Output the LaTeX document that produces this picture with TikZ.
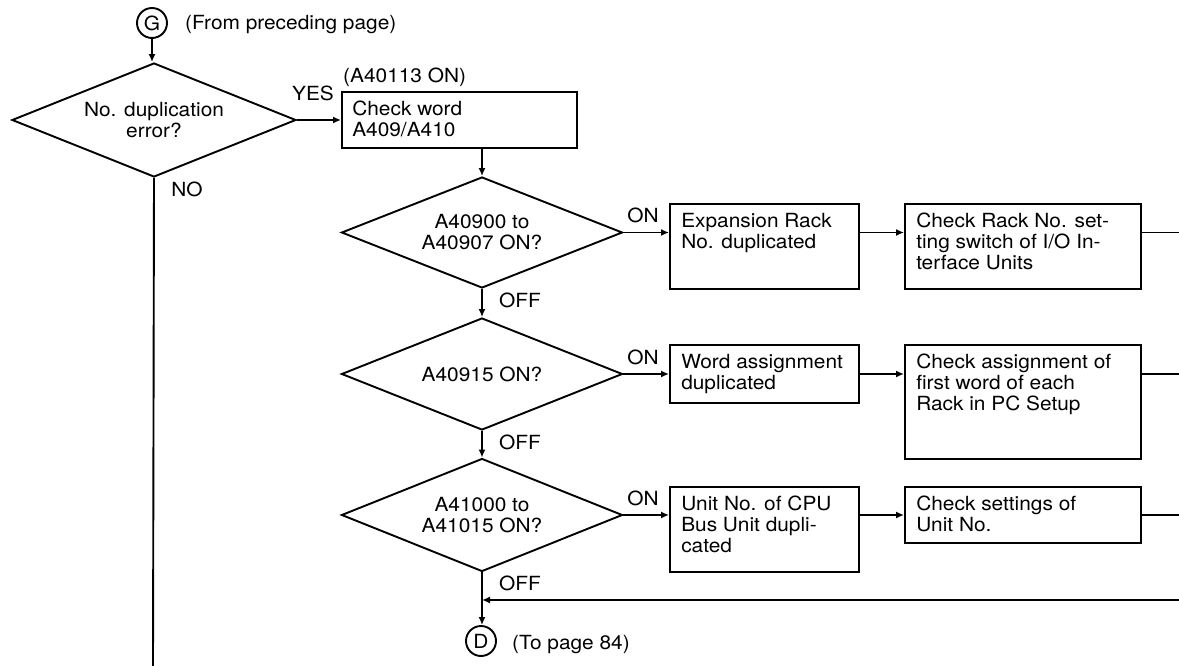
\documentclass[tikz,border=0pt]{standalone}
\usepackage{fontspec}
\setmainfont{TeX Gyre Heros}[FakeStretch=1.07]
\usetikzlibrary{shapes.geometric,arrows.meta}
\tikzset{
  base/.style={font=\fontsize{19.5}{21}\selectfont, inner sep=0pt},
  line/.style={line width=1.9pt},
  arr/.style={line width=1.9pt, -{Latex[length=8pt,width=7pt]}},
  dec/.style={base, draw, line width=1.9pt, diamond, aspect=2.5, align=center},
  box/.style={draw, line width=1.9pt, inner sep=0pt},
  txt/.style={base, anchor=north west, align=left},
  lbl/.style={base},
  conn/.style={base, draw, circle, line width=1.9pt, minimum size=30pt}
}
\begin{document}
\begin{tikzpicture}[x=1pt,y=-1pt]
\useasboundingbox (0,0) rectangle (1179,666);

% connectors G and D
\node[conn] (G) at (152,23) {G};
\node[lbl, anchor=west] (Gt) at (185,25) {(From preceding page)};

% first decision
\node[dec, minimum width=284pt, minimum height=114pt] (d1) at (154,120) {No. duplication\\error?};
\node[box, minimum width=235pt, minimum height=56pt] (c1) at (459.5,120) {};
\node[txt] (c1t) at ([shift={(11,10)}]c1.north west) {Check word\\A409/A410};
\node[lbl, anchor=west] (c1l) at (343,77) {(A40113 ON)};
\node[lbl] (yes) at (313,93) {YES};
\node[lbl] (no) at (187,189) {NO};

% decisions chain
\node[dec, minimum width=281pt, minimum height=111pt] (d2) at (482,232.5) {A40900 to\\A40907 ON?};
\node[dec, minimum width=281pt, minimum height=112pt] (d3) at (482,374) {A40915 ON?};
\node[dec, minimum width=281pt, minimum height=113pt] (d4) at (482,515) {A41000 to\\A41015 ON?};

% boxes row 1
\node[box, minimum width=189pt, minimum height=85pt] (e1) at (764.5,246.5) {};
\node[txt] (e1t) at ([shift={(12,10)}]e1.north west) {Expansion Rack\\No. duplicated};
\node[box, minimum width=236pt, minimum height=85pt] (f1) at (1023,246.5) {};
\node[txt] (f1t) at ([shift={(12,10)}]f1.north west) {Check Rack No. set-\\ting switch of I/O In-\\terface Units};

% boxes row 2
\node[box, minimum width=189pt, minimum height=58pt] (e2) at (764.5,374) {};
\node[txt] (e2t) at ([shift={(12,10)}]e2.north west) {Word assignment\\duplicated};
\node[box, minimum width=236pt, minimum height=114pt] (f2) at (1023,402) {};
\node[txt] (f2t) at ([shift={(12,10)}]f2.north west) {Check assignment of\\first word of each\\Rack in PC Setup};

% boxes row 3
\node[box, minimum width=189pt, minimum height=85pt] (e3) at (764.5,529.5) {};
\node[txt] (e3t) at ([shift={(12,10)}]e3.north west) {Unit No. of CPU\\Bus Unit dupli-\\cated};
\node[box, minimum width=236pt, minimum height=56pt] (f3) at (1023,515) {};
\node[txt] (f3t) at ([shift={(12,10)}]f3.north west) {Check settings of\\Unit No.};

% labels
\node[lbl] (on1) at (643,215) {ON};
\node[lbl] (on2) at (643,357) {ON};
\node[lbl] (on3) at (643,498) {ON};
\node[lbl, anchor=west] (off1) at (499,300) {OFF};
\node[lbl, anchor=west] (off2) at (499,442) {OFF};
\node[lbl, anchor=west] (off3) at (499,583) {OFF};

\node[conn] (D) at (481,641) {D};
\node[lbl, anchor=west] (Dt) at (512,645) {(To page 84)};

% free ends
\coordinate (nob) at (153,666);
\coordinate (r1) at (1179,232.5);
\coordinate (r2) at (1179,374);
\coordinate (r3) at (1179,515);
\coordinate (r4) at (1179,600);

% connectors
\draw[arr] (G) -- (G.south |- d1.north);
\draw[line] (d1.south) -- (nob);
\draw[arr] (d1.east) -- (c1.west);
\draw[arr] (d2.north |- c1.south) -- (d2.north);

\draw[arr] (d2.east) -- (e1.west |- d2.east);
\draw[arr] (e1.east |- d2.east) -- (f1.west |- d2.east);
\draw[line] (f1.east |- d2.east) -- (r1);
\draw[arr] (d2.south) -- (d3.north);

\draw[arr] (d3.east) -- (e2.west |- d3.east);
\draw[arr] (e2.east |- d3.east) -- (f2.west |- d3.east);
\draw[line] (f2.east |- d3.east) -- (r2);
\draw[arr] (d3.south) -- (d4.north);

\draw[arr] (d4.east) -- (e3.west |- d4.east);
\draw[arr] (e3.east |- d4.east) -- (f3.west |- d4.east);
\draw[line] (f3.east |- d4.east) -- (r3);

\draw[arr] (d4.south) -- (d4.south |- D.north);
\draw[arr] (r4) -- (r4 -| d4.south);
\end{tikzpicture}
\end{document}
